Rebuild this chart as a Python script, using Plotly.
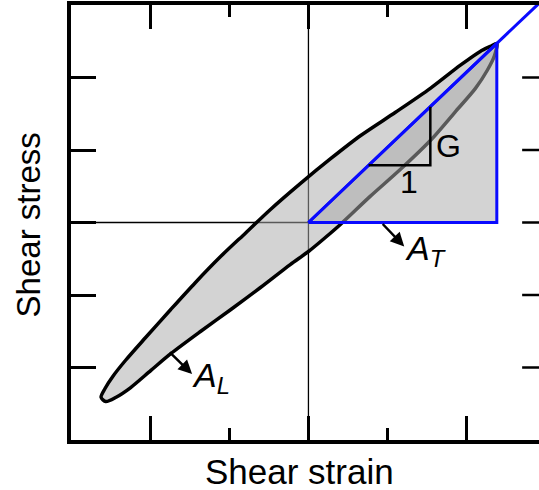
import plotly.graph_objects as go

# Hysteresis loop: upper branch from the negative tip up to the peak
upper_strain = [-2.62, -2.57, -2.47, -2.31, -2.06, -1.74, -1.43, -1.11, -0.79, -0.48,
                -0.10, 0.28, 0.66, 1.10, 1.54, 1.92, 2.17, 2.30, 2.38]
upper_stress = [-2.41, -2.29, -2.12, -1.90, -1.59, -1.20, -0.83, -0.47, -0.14, 0.18,
                0.54, 0.88, 1.20, 1.52, 1.85, 2.17, 2.36, 2.43, 2.47]

# Lower branch from the negative tip up to just below the peak
lower_strain = [-2.56, -2.43, -2.25, -1.99, -1.74, -1.36, -0.98, -0.61, -0.23,
                0.00, 0.21, 0.40, 0.78, 1.16, 1.54, 1.85, 2.11, 2.26, 2.35]
lower_stress = [-2.47, -2.41, -2.28, -2.04, -1.81, -1.50, -1.20, -0.90, -0.58,
                -0.40, -0.21, -0.03, 0.36, 0.73, 1.13, 1.52, 1.85, 2.10, 2.30]

# Peak point and secant modulus
peak_strain = 2.38
peak_stress = 2.47
G = peak_stress / peak_strain

# Run of the small slope triangle drawn on the secant line
slope_run = [0.76, 1.54]

stress_ticks = [-2, -1, 0, 1, 2]
strain_major = [-2, 0, 2]
strain_minor = [-1, 1]

x_range = [-3, 2.913]
y_range = [-3, 3]

FONT = "Liberation Sans, Arial, sans-serif"
FILL = "rgba(170,170,170,0.52)"
BLUE = "#0a0aff"

fig = go.Figure()

# energy-loss loop (A_L)
loop_x = upper_strain + lower_strain[::-1] + [upper_strain[0]]
loop_y = upper_stress + lower_stress[::-1] + [upper_stress[0]]
fig.add_trace(go.Scatter(
    x=loop_x, y=loop_y, mode="lines", fill="toself", fillcolor=FILL,
    line=dict(color="black", width=3.5, shape="spline", smoothing=0.8),
    hoverinfo="skip", showlegend=False))

# stored-energy triangle (A_T)
fig.add_trace(go.Scatter(
    x=[0, peak_strain, peak_strain, 0], y=[0, 0, peak_stress, 0],
    mode="lines", fill="toself", fillcolor=FILL,
    line=dict(color=BLUE, width=3), hoverinfo="skip", showlegend=False))

# secant line through the peak
fig.add_trace(go.Scatter(
    x=[0, 3.2], y=[0, 3.2 * G], mode="lines",
    line=dict(color=BLUE, width=3), hoverinfo="skip", showlegend=False))

# slope triangle: run 1, rise G
fig.add_trace(go.Scatter(
    x=[slope_run[0], slope_run[1], slope_run[1]],
    y=[G * slope_run[0], G * slope_run[0], G * slope_run[1]],
    mode="lines", line=dict(color="black", width=2.5),
    hoverinfo="skip", showlegend=False))

shapes = [
    # zero-strain and zero-stress reference lines
    dict(type="line", xref="x", yref="y", x0=0, x1=0, y0=y_range[0], y1=y_range[1],
         line=dict(color="black", width=1.3), layer="below"),
    dict(type="line", xref="x", yref="y", x0=x_range[0], x1=0, y0=0, y1=0,
         line=dict(color="black", width=1.3), layer="below"),
]
# tick marks along the right-hand frame
for v in stress_ticks:
    shapes.append(dict(type="line", xref="x", yref="y", x0=2.70, x1=x_range[1],
                       y0=v, y1=v, line=dict(color="black", width=2.5)))

annotations = [
    dict(x=1.77, y=1.05, text="G", showarrow=False,
         font=dict(family=FONT, size=32, color="black"), xanchor="center", yanchor="middle"),
    dict(x=1.27, y=0.56, text="1", showarrow=False,
         font=dict(family=FONT, size=32, color="black"), xanchor="center", yanchor="middle"),
    dict(x=1.19, y=-0.38, text="<i>A<sub>T</sub></i>", showarrow=False,
         font=dict(family=FONT, size=34, color="black"), xanchor="left", yanchor="middle"),
    dict(x=-1.50, y=-2.14, text="<i>A<sub>L</sub></i>", showarrow=False,
         font=dict(family=FONT, size=34, color="black"), xanchor="left", yanchor="middle"),
    # pointer arrows
    dict(x=1.21, y=-0.33, ax=0.92, ay=0.0, xref="x", yref="y", axref="x", ayref="y",
         text="", showarrow=True, arrowhead=2, arrowsize=1.1, arrowwidth=2.5,
         arrowcolor="black"),
    dict(x=-1.47, y=-2.09, ax=-1.77, ay=-1.77, xref="x", yref="y", axref="x", ayref="y",
         text="", showarrow=True, arrowhead=2, arrowsize=1.1, arrowwidth=2.5,
         arrowcolor="black"),
    # axis titles
    dict(x=-0.11, y=0, xref="x", yref="paper", yanchor="top", yshift=-10,
         text="Shear strain", showarrow=False,
         font=dict(family=FONT, size=35, color="black")),
    dict(x=0, y=-0.04, xref="paper", yref="y", xanchor="center", xshift=-43,
         text="Shear stress", textangle=-90, showarrow=False,
         font=dict(family=FONT, size=33, color="black")),
]

fig.update_layout(
    width=539, height=490,
    margin=dict(l=71, r=0, t=5, b=50),
    paper_bgcolor="white", plot_bgcolor="white",
    shapes=shapes, annotations=annotations,
    showlegend=False,
    xaxis=dict(range=x_range, showgrid=False, zeroline=False, showticklabels=False,
               showline=True, linewidth=4, linecolor="black", mirror="ticks",
               ticks="inside", tickmode="array", tickvals=strain_major,
               ticklen=24, tickwidth=2.5, tickcolor="black",
               minor=dict(ticks="inside", tickmode="array", tickvals=strain_minor,
                          ticklen=12, tickwidth=2.5, tickcolor="black")),
    yaxis=dict(range=y_range, showgrid=False, zeroline=False, showticklabels=False,
               showline=True, linewidth=4, linecolor="black",
               ticks="inside", tickmode="array", tickvals=stress_ticks,
               ticklen=25, tickwidth=2.5, tickcolor="black"),
)

fig.write_html("out.html")
